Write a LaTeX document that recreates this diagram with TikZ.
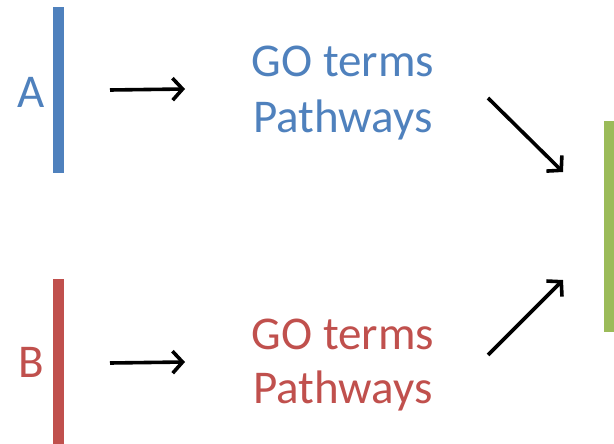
\documentclass[tikz,border=0pt]{standalone}
\usepackage{fontspec}
\setmainfont{Carlito}
\usetikzlibrary{arrows.meta}
\definecolor{offblue}{HTML}{4F81BD}
\definecolor{offred}{HTML}{C0504D}
\definecolor{offgreen}{HTML}{9BBB59}
\begin{document}
\begin{tikzpicture}[x=1pt,y=-1pt,
  bar/.style={fill=#1,draw=none,inner sep=0pt,minimum width=11pt,anchor=north west},
  lbl/.style={text=#1,font=\fontsize{47}{56}\selectfont,inner sep=0pt,anchor=base},
  arr/.style={line width=3.6pt,-{Straight Barb[length=10pt,width=22pt]}}]
\useasboundingbox (0,0) rectangle (614,444);
% bars
\node[bar=offblue,minimum height=166pt] (barA) at (53,7) {};
\node[bar=offred,minimum height=165pt] (barB) at (53,279) {};
\node[bar=offgreen,minimum height=211pt,minimum width=10pt] (barC) at (604,121) {};
% labels
\node[lbl=offblue] (labA) at (31,107) {A};
\node[lbl=offred] (labB) at (31,377) {B};
\node[lbl=offblue] (goA) at (343,77) {GO terms};
\node[lbl=offblue] (pwA) at (343,132) {Pathways};
\node[lbl=offred] (goB) at (343,349) {GO terms};
\node[lbl=offred] (pwB) at (343,403) {Pathways};
% arrow end points
\coordinate (a1s) at (110,90);
\coordinate (a1e) at (185,89);
\coordinate (a2s) at (110,363);
\coordinate (a2e) at (185,362);
\coordinate (d1s) at (488,98);
\coordinate (d1e) at (563,172);
\coordinate (d2s) at (488,355);
\coordinate (d2e) at (563,280);
\draw[arr] (a1s) -- (a1e);
\draw[arr] (a2s) -- (a2e);
\draw[arr] (d1s) -- (d1e);
\draw[arr] (d2s) -- (d2e);
\end{tikzpicture}
\end{document}
